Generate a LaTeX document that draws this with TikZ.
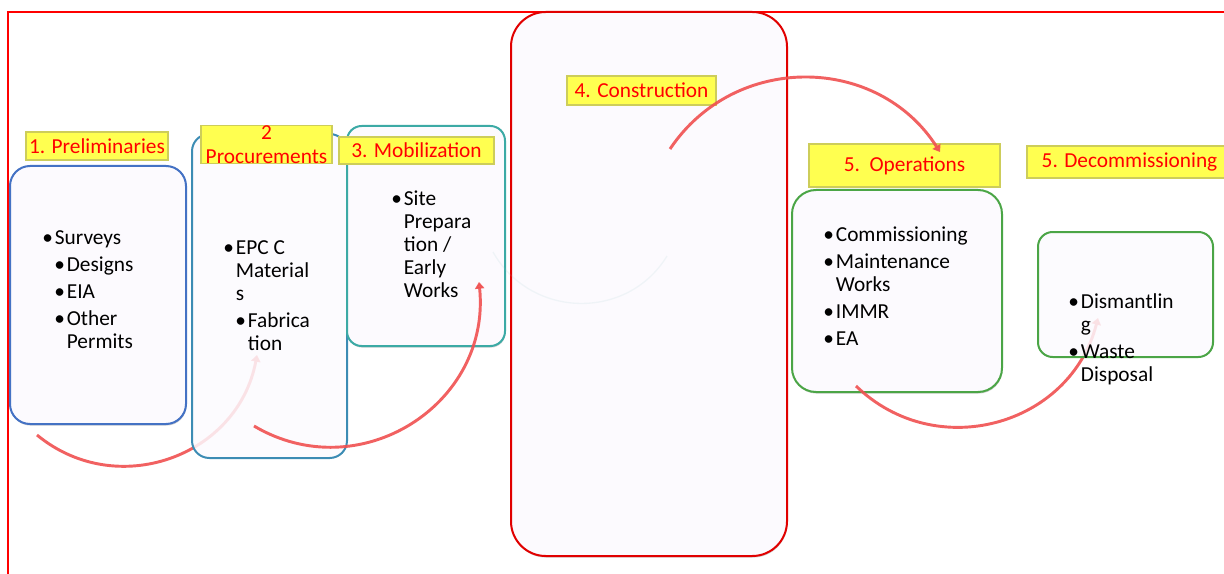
\documentclass[tikz,border=0pt]{standalone}
\usepackage{fontspec}
\setmainfont{Carlito}
\usetikzlibrary{arrows.meta,shadows}

\definecolor{frameRed}{RGB}{255,0,0}
\definecolor{prelimBlue}{RGB}{68,114,196}
\definecolor{procBlue}{RGB}{60,140,180}
\definecolor{mobTeal}{RGB}{60,170,165}
\definecolor{constrRed}{RGB}{225,0,0}
\definecolor{opsGreen}{RGB}{75,165,70}
\definecolor{boxFill}{RGB}{252,250,254}
\definecolor{tagYellow}{RGB}{255,255,80}
\definecolor{tagEdge}{RGB}{205,205,90}
\definecolor{arcRed}{RGB}{240,80,80}
\definecolor{arcTeal}{RGB}{150,200,200}

\newcommand{\bul}{\textbullet\hspace{1.5pt}}
\newcommand{\hang}{\hphantom{\bul}}

\begin{document}
\begin{tikzpicture}[x=0.75pt,y=0.75pt,
  stage/.style={draw, line width=1.5pt, fill=boxFill, inner sep=0pt, rounded corners=#1},
  shade/.style={drop shadow={shadow xshift=0.4pt, shadow yshift=-1.2pt, opacity=0.3, fill=black!60}},
  seethru/.style={fill opacity=0.85},
  boxsize/.style 2 args={minimum width=#1*0.75pt, minimum height=#2*0.75pt},
  tag/.style={fill=tagYellow, draw=tagEdge, line width=1pt, text=red, inner sep=0pt,
    align=center, font=\fontsize{16}{18}\selectfont},
  items/.style={anchor=base west, align=left, inner sep=0pt, font=\fontsize{16}{17.25}\selectfont},
  flow/.style={draw=arcRed, line width=2.2pt, opacity=0.9, -{Triangle[length=5pt,width=7pt]}}]

  \useasboundingbox (0,0) rectangle (1224,-574) ;

  % Frame
  \draw[frameRed, line width=1.1pt] (8,-574) -- (8,-12) -- (1224,-12) ;

  % Arc end points
  \coordinate (a1_s) at (37,-435) ;
  \coordinate (a1_e) at (257,-355) ;
  \coordinate (a2_s) at (254,-426) ;
  \coordinate (a2_e) at (479,-282) ;
  \coordinate (a3_s) at (493,-252) ;
  \coordinate (a3_e) at (667,-256) ;
  \coordinate (a4_s) at (670,-149) ;
  \coordinate (a4_e) at (940,-152) ;
  \coordinate (a5_s) at (856,-386) ;
  \coordinate (a5_e) at (1098,-318) ;

  % Preliminaries
  \node[stage=15pt, shade, draw=prelimBlue, boxsize={176}{258}] (prelim) at (98,-295) {} ;
  \node[tag, boxsize={142}{28}] (prelim_t) at (97,-146) {1. Preliminaries} ;
  \draw[flow] (a1_s) .. controls (116.8,-500.8) and (238,-456.6) .. (a1_e) ; %

  % Procurements, Mobilization
  \node[stage=13pt, seethru, draw=procBlue, boxsize={155}{324}] (proc) at (269.5,-296) {} ;
  \node[stage=11pt, shade, draw=mobTeal, boxsize={158}{220}] (mob) at (426,-236) {} ;
  \draw[flow] (a2_s) .. controls (359.8,-488.6) and (491.2,-404.3) .. (a2_e) ; %

  % Construction, Operations
  \node[stage=26pt, shade, draw=constrRed, boxsize={276}{544}] (constr) at (649,-284) {} ;
  \draw[arcTeal, line width=1pt, opacity=0.12] (a3_s) .. controls (530.5,-318.6) and (627.2,-321.2) .. (a3_e) ; %
  \node[tag, boxsize={131}{37}] (proc_t) at (266.5,-144.5) {2\\Procurements} ;
  \node[tag, boxsize={155}{27}] (mob_t) at (416.5,-150.5) {3. Mobilization} ;
  \node[tag, boxsize={149}{29}] (constr_t) at (641.5,-90.5) {4. Construction} ;
  \node[tag, boxsize={191}{43}] (ops_t) at (904.5,-165.5) {5.\ \ Operations} ;
  \draw[flow] (a4_s) .. controls (734.6,-52.5) and (877.4,-54.2) .. (a4_e) ; %

  \node[stage=18pt, shade, draw=opsGreen, boxsize={210}{202}] (ops) at (897,-291) {} ;
  \draw[flow] (a5_s) .. controls (936.1,-463.6) and (1070.1,-425.9) .. (a5_e) ; %

  % Decommissioning
  \node[stage=11pt, seethru, draw=opsGreen, boxsize={175}{125}] (decom) at (1125.5,-294.5) {} ;
  \node[tag, boxsize={205}{32}] (decom_t) at (1129.5,-162) {5. Decommissioning} ;

  % Bullet lists (anchored at the last line)
  \node[items] (prelim_l) at (42,-348) {\bul Surveys\\[3pt]
    \hspace*{9pt}\bul Designs\\[3pt]
    \hspace*{9pt}\bul EIA\\[3pt]
    \hspace*{9pt}\bul Other\\
    \hspace*{9pt}\hang Permits} ;
  \node[items] (proc_l) at (223,-350) {\bul EPC C\\ \hang Material\\ \hang s\\[3pt]
    \hspace*{9pt}\bul Fabrica\\
    \hspace*{9pt}\hang tion} ;
  \node[items] (mob_l) at (391,-297) {\bul Site\\ \hang Prepara\\ \hang tion /\\ \hang Early\\ \hang Works} ;
  \node[items] (ops_l) at (823,-345) {\bul Commissioning\\[3pt]
    \bul Maintenance\\ \hang Works\\[3pt]
    \bul IMMR\\[3pt]
    \bul EA} ;
  \node[items] (decom_l) at (1068,-381) {\bul Dismantlin\\ \hang g\\[3pt]
    \bul Waste\\ \hang Disposal} ;
\end{tikzpicture}
\end{document}
